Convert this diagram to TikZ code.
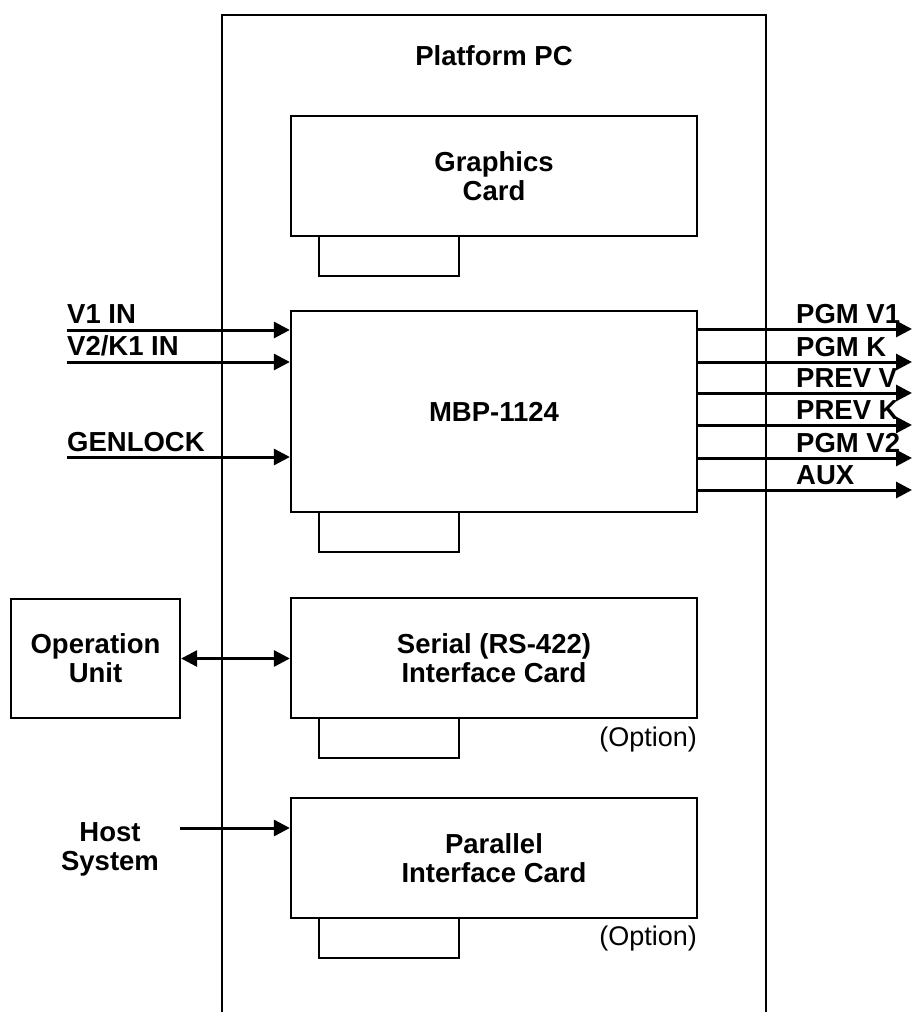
\documentclass[tikz,border=0pt]{standalone}
\usepackage{fontspec}
\setmainfont{Liberation Sans}
\usetikzlibrary{arrows.meta}

\tikzset{
  card/.style={draw, line width=2.3pt, minimum width=406pt, minimum height=120pt,
    align=center, inner sep=0pt, font=\fontsize{27.5}{29}\selectfont\bfseries},
  lbl/.style={inner sep=0pt, font=\fontsize{27.5}{29}\selectfont\bfseries},
  opt/.style={inner sep=0pt, font=\fontsize{27}{29}\selectfont},
  sig/.style={line width=3pt, -{Triangle[length=16pt,width=16pt]}},
}

\begin{document}
\begin{tikzpicture}[x=1pt,y=-1pt]
  \useasboundingbox (0,0) rectangle (912,1012);

  % Platform PC frame, open at the bottom
  \draw[line width=2.3pt] (222,1012) -- (222,15) -- (766,15) -- (766,1012);
  \node[lbl] (pc) at (494,56) {Platform PC};

  % Cards
  \node[card] (gfx) at (494,176) {Graphics\\Card};
  \node[card, minimum height=201pt] (mbp) at (494,411.5) {MBP-1124};
  \node[card] (serial) at (494,658) {Serial (RS-422)\\Interface Card};
  \node[card] (par) at (494,858) {Parallel\\Interface Card};
  \foreach \y in {236,512,718,918} {
    \draw[line width=2.3pt] (319,\y) rectangle (459,\y+40);
  }
  \node[opt,anchor=base east] (opt1) at (697,746) {(Option)};
  \node[opt,anchor=base east] (opt2) at (697,945) {(Option)};

  % Inputs
  \coordinate (v1) at (67,330);
  \coordinate (v2) at (67,362);
  \coordinate (gen) at (67,457);
  \draw[sig] (v1) -- (v1 -| mbp.west);
  \draw[sig] (v2) -- (v2 -| mbp.west);
  \draw[sig] (gen) -- (gen -| mbp.west);
  \node[lbl,anchor=base west] at (67,323) {V1 IN};
  \node[lbl,anchor=base west] at (67,355) {V2/K1 IN};
  \node[lbl,anchor=base west] at (67,451) {GENLOCK};

  % Outputs
  \foreach \y/\t in {329/PGM V1,362/PGM K,393/PREV V,425/PREV K,458/PGM V2,490/AUX} {
    \coordinate (out\y) at (912,\y);
    \draw[sig] (mbp.east |- out\y) -- (out\y);
    \node[lbl,anchor=base west] at (796,\y-6) {\t};
  }

  % Operation unit and host
  \node[card, minimum width=169pt, minimum height=119pt] (op) at (95.5,658.5) {Operation\\Unit};
  \draw[sig, {Triangle[length=16pt,width=16pt]}-{Triangle[length=16pt,width=16pt]}] (op.east) -- (op.east -| serial.west);
  \node[lbl,align=center] (host) at (110,849) {Host\\System};
  \coordinate (hostout) at (180,828);
  \draw[sig] (hostout) -- (hostout -| par.west);
\end{tikzpicture}
\end{document}
